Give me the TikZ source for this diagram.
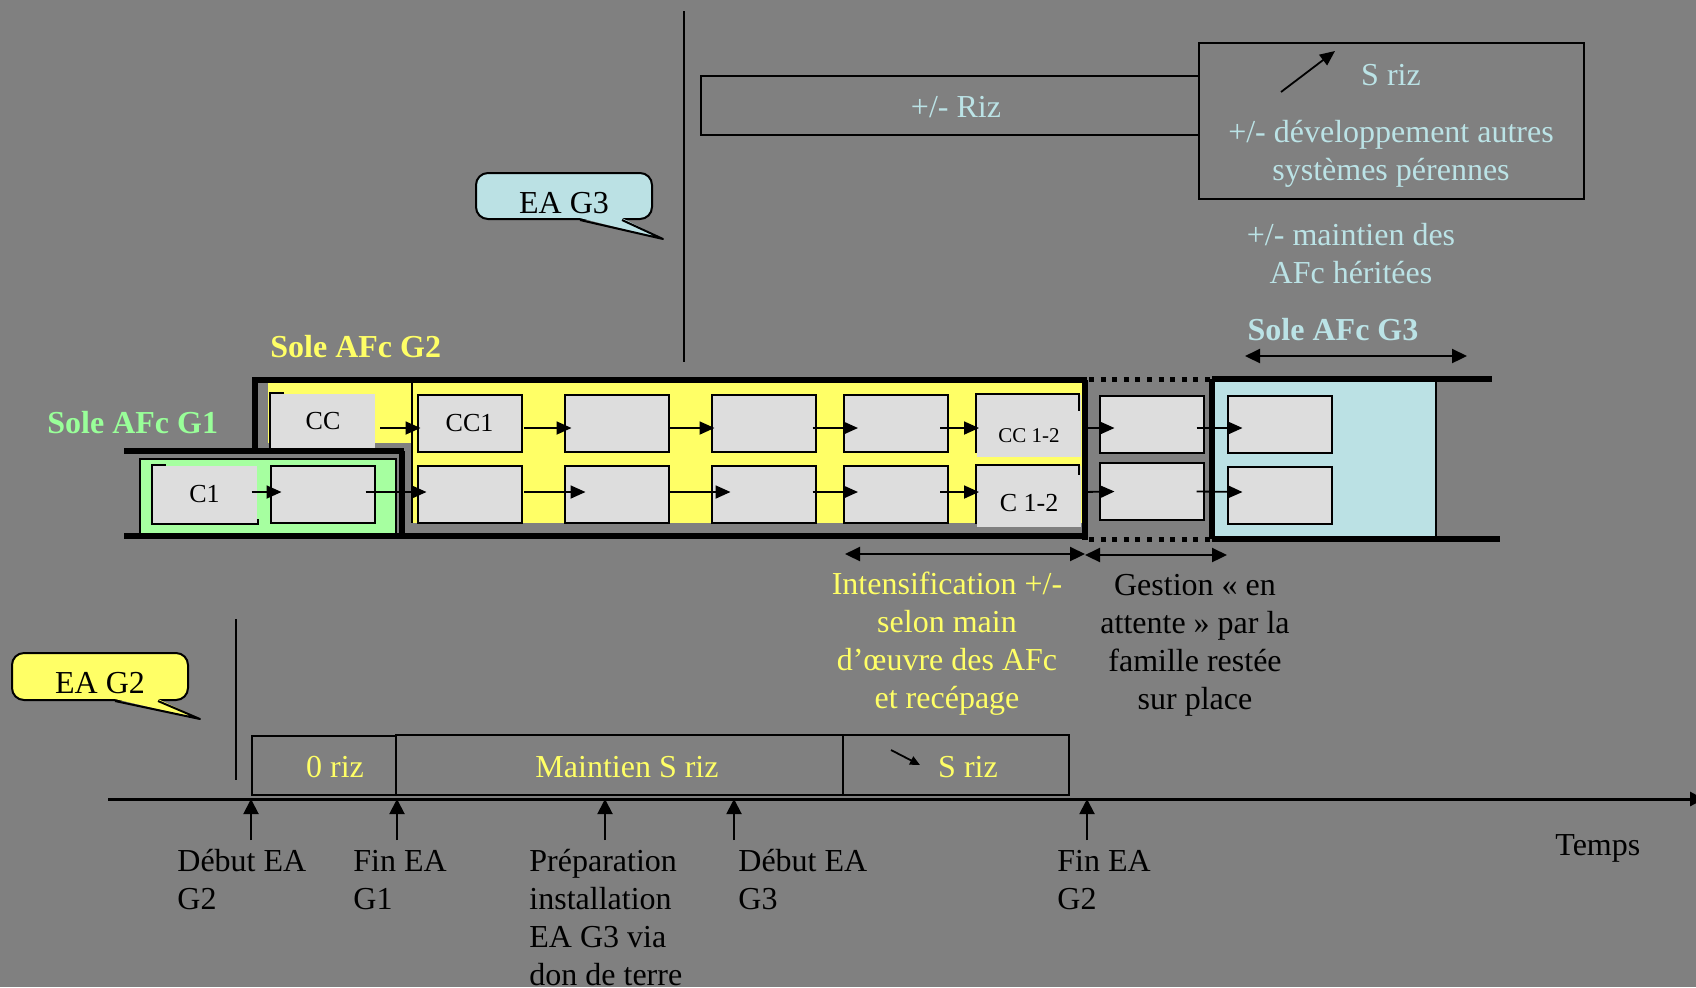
\documentclass[tikz,border=0pt]{standalone}
\usepackage{fontspec}
\setmainfont{Liberation Serif}
\usetikzlibrary{arrows.meta}
\definecolor{bggray}{HTML}{808080}
\definecolor{cellgray}{HTML}{DDDDDD}
\definecolor{solegreen}{HTML}{A6FFA0}
\definecolor{soleyellow}{HTML}{FFFF66}
\definecolor{soleblue}{HTML}{BBE1E4}
\definecolor{greentext}{HTML}{99FF99}
\definecolor{bluetext}{HTML}{BBE3E6}

\begin{document}
\begin{tikzpicture}[x=0.5pt,y=-0.5pt]
	\tikzset{cell/.style={draw, line width=1pt, fill=cellgray, minimum width=52pt, minimum height=28.5pt, inner sep=0pt, font=\fontsize{13}{15}\selectfont}}
	\tikzset{tag_cell/.style={cell, draw=none}}
	\tikzset{flow/.style={line width=0.9pt, -{Triangle[length=7.5pt,width=6.5pt]}}}
	\tikzset{span/.style={line width=1.1pt, {Triangle[length=7.5pt,width=7pt]}-{Triangle[length=7.5pt,width=7pt]}}}
	\tikzset{event/.style={line width=1pt, -{Triangle[length=7.5pt,width=7.5pt]}}}
	\tikzset{sole_edge/.style={line width=3pt}}
	\tikzset{wait_edge/.style={line width=2.5pt, dash pattern=on 2.5pt off 3.3pt}}
	\tikzset{txt/.style={inner sep=0pt, font=\fontsize{16}{19}\selectfont}}
	\tikzset{sole_txt/.style={inner sep=0pt, font=\fontsize{16}{19}\selectfont\bfseries}}
	\tikzset{bubble/.style={draw, line width=1pt, rounded corners=6pt, minimum width=88pt, minimum height=23pt, inner sep=0pt, text height=17pt, text depth=0pt, font=\fontsize{16}{19}\selectfont}}
	\tikzset{tail/.style={line width=1pt, line join=round}}
	\tikzset{period/.style={draw, line width=1pt, inner sep=0pt}}

	% fond
	\fill[bggray] (0,0) rectangle (1696,987);
	\useasboundingbox (0,0) rectangle (1696,987);

	% EA G3 en haut
	\draw[line width=1pt] (684,11) -- (684,362);
	\node[period, minimum width=249pt, minimum height=29.5pt] (riz) at (950,105.5) {};
	\node[period, minimum width=192.5pt, minimum height=78pt] (perenne) at (1391.5,121) {};
	\node[txt, text=bluetext, anchor=base] (riztxt) at (956,117) {+/- Riz};
	\node[txt, text=bluetext, anchor=base] (sriztxt) at (1391,85) {S riz};
	\draw[flow] (1281,92) -- (1335,51);
	\node[txt, text=bluetext, align=center, anchor=base] (perennetxt) at (1391,180) {+/- développement autres\\systèmes pérennes};
	\node[txt, text=bluetext, align=center, anchor=base] (heritetxt) at (1351,283) {+/- maintien des\\AFc héritées};
	\node[bubble, fill=soleblue] (eag3) at (564,196) {EA G3};
	\coordinate (eag3tip) at (663,239);
	\fill[soleblue] ([xshift=8pt,yshift=1pt]eag3.south) -- (eag3tip) -- ([xshift=29pt,yshift=1pt]eag3.south) -- cycle;
	\draw[tail] ([xshift=8pt]eag3.south) -- (eag3tip) -- ([xshift=29pt]eag3.south);

	% soles
	\node[sole_txt, text=greentext, anchor=base west] (soleg1) at (47,433) {Sole AFc G1};
	\node[sole_txt, text=soleyellow, anchor=base west] (soleg2) at (270,357) {Sole AFc G2};
	\node[sole_txt, text=bluetext, anchor=base] (soleg3) at (1333,340) {Sole AFc G3};
	\coordinate (g3left) at (1245,356);
	\coordinate (g3right) at (1467,356);
	\draw[span] (g3left) -- (g3right);

	\draw[line width=1pt, fill=solegreen] (140,459) rectangle (396,534);
	\fill[soleyellow] (268,383) rectangle (412,443);
	\fill[soleyellow] (412,383) rectangle (1083,523);
	\draw[line width=1pt] (412,383) -- (412,523);
	\fill[soleblue] (1213,382) rectangle (1436,537);
	\draw[line width=1pt] (1436,382) -- (1436,537);

	\draw[sole_edge] (255,451) -- (255,380) -- (1087,380);
	\draw[sole_edge] (1085,380) -- (1085,540);
	\draw[sole_edge] (124,451) -- (404,451);
	\draw[sole_edge] (402,451) -- (402,536);
	\draw[sole_edge] (124,536) -- (1087,536);
	\draw[wait_edge] (1089,379) -- (1212,379);
	\draw[wait_edge] (1089,539) -- (1212,539);
	\draw[sole_edge] (1212,379) -- (1212,539);
	\draw[sole_edge] (1212,379) -- (1492,379);
	\draw[sole_edge] (1212,539) -- (1500,539);

	% cultures G1
	\node[tag_cell] (c1) at (204.5,494) {C1};
	\draw[line width=1pt] ([xshift=7pt]c1.north west) -- (c1.north west) -- (c1.south west) -- (c1.south east) -- ([yshift=2.5pt]c1.south east);
	\node[cell] (g1b) at (322.5,494) {};

	% cultures G2
	\node[tag_cell, minimum height=27pt] (cc) at (323,421) {CC};
	\draw[line width=1pt] ([xshift=7pt]cc.north west) -- (cc.north west) -- (cc.south west);
	\node[cell] (cc1) at (469.5,423) {CC1};
	\node[cell] (u3) at (616.5,423) {};
	\node[cell] (u4) at (763.5,423) {};
	\node[cell] (u5) at (896,423) {};
	\node[tag_cell, minimum height=31pt, text height=16pt, text depth=0pt, font=\fontsize{10.5}{12}\selectfont] (cc12) at (1029,426) {CC 1-2};
	\draw[line width=1pt] ([yshift=2.5pt]cc12.south west) -- (cc12.north west) -- ([xshift=-1.5pt]cc12.north east) -- ([xshift=-1.5pt,yshift=-8.5pt]cc12.north east);
	\node[cell] (l2) at (469.5,494) {};
	\node[cell] (l3) at (616.5,494) {};
	\node[cell] (l4) at (763.5,494) {};
	\node[cell] (l5) at (896,494) {};
	\node[tag_cell, minimum height=30.5pt, text height=14.6pt, text depth=0pt] (c12) at (1029,496.5) {C 1-2};
	\draw[line width=1pt] ([yshift=2pt]c12.south west) -- (c12.north west) -- ([xshift=-1.5pt]c12.north east) -- ([xshift=-1.5pt,yshift=-5pt]c12.north east);

	% attente et G3
	\node[cell] (u7) at (1151.5,424) {};
	\node[cell] (l7) at (1151.5,491.5) {};
	\node[cell] (u8) at (1279.5,424) {};
	\node[cell] (l8) at (1279.5,495) {};

	% enchainements
	\draw[flow] ([xshift=2pt,yshift=-3.5pt]cc.east) -- ([xshift=2pt,yshift=-2.5pt]cc1.west);
	\draw[flow] ([xshift=0.75pt,yshift=-2.5pt]cc1.east) -- ([xshift=4pt,yshift=-2.5pt]u3.west);
	\draw[flow] ([yshift=-2.5pt]u3.east) -- ([xshift=2pt,yshift=-2.5pt]u4.west);
	\draw[flow] ([xshift=-2pt,yshift=-2.5pt]u4.east) -- ([xshift=7.5pt,yshift=-2.5pt]u5.west);
	\draw[flow] ([xshift=-4.5pt,yshift=-2.5pt]u5.east) -- ([xshift=1.5pt,yshift=-1pt]cc12.west);
	\draw[flow] ([yshift=-1pt]cc12.east) -- ([xshift=8pt,yshift=-2pt]u7.west);
	\draw[flow] ([xshift=-4pt,yshift=-2pt]u7.east) -- ([xshift=8pt,yshift=-2pt]u8.west);
	\draw[flow] ([xshift=-3pt,yshift=1pt]c1.east) -- ([xshift=6pt,yshift=1pt]g1b.west);
	\draw[flow] ([xshift=-5pt,yshift=1pt]g1b.east) -- ([xshift=5pt,yshift=1pt]l2.west);
	\draw[flow] ([xshift=0.75pt,yshift=1pt]l2.east) -- ([xshift=11pt,yshift=1pt]l3.west);
	\draw[flow] ([yshift=1pt]l3.east) -- ([xshift=10pt,yshift=1pt]l4.west);
	\draw[flow] ([xshift=-2pt,yshift=1pt]l4.east) -- ([xshift=7.5pt,yshift=1pt]l5.west);
	\draw[flow] ([xshift=-4.5pt,yshift=1pt]l5.east) -- ([xshift=1.5pt,yshift=2.25pt]c12.west);
	\draw[flow] ([yshift=2.25pt]c12.east) -- ([xshift=8pt]l7.west);
	\draw[flow] ([xshift=-4pt]l7.east) -- ([xshift=8pt,yshift=1.5pt]l8.west);

	% phases
	\coordinate (intl) at (845,554);
	\coordinate (intr) at (1085,554);
	\draw[span] (intl) -- (intr);
	\coordinate (gestl) at (1085,555);
	\coordinate (gestr) at (1227,555);
	\draw[span] (gestl) -- (gestr);
	\node[txt, text=soleyellow, align=center, anchor=base] (intens) at (947,708) {Intensification +/-\\selon main\\d’œuvre des AFc\\et recépage};
	\node[txt, align=center, anchor=base] (gestion) at (1195,709) {Gestion « en\\attente » par la\\famille restée\\sur place};

	% EA G2 en bas
	\node[bubble, fill=soleyellow, minimum height=23.5pt] (eag2) at (100,676.5) {EA G2};
	\coordinate (eag2tip) at (200,719);
	\fill[soleyellow] ([xshift=7.5pt,yshift=1pt]eag2.south) -- (eag2tip) -- ([xshift=29pt,yshift=1pt]eag2.south) -- cycle;
	\draw[tail] ([xshift=7.5pt]eag2.south) -- (eag2tip) -- ([xshift=29pt]eag2.south);
	\draw[line width=1pt] (236,619) -- (236,780);

	\node[period, minimum width=72pt, minimum height=29.5pt] (p0) at (324,765.5) {};
	\node[period, minimum width=223.5pt, minimum height=30pt] (p1) at (619.5,765) {};
	\node[period, minimum width=113pt, minimum height=30pt] (p2) at (956,765) {};
	\node[txt, text=soleyellow, anchor=base] (p0txt) at (335,777) {0 riz};
	\node[txt, text=soleyellow, anchor=base] (p1txt) at (627,777) {Maintien S riz};
	\node[txt, text=soleyellow, anchor=base] (p2txt) at (968,777) {S riz};
	\draw[line width=0.9pt, -{Triangle[length=5pt,width=4.5pt]}] (891,750) -- (920,765);

	% axe du temps
	\coordinate (t0) at (108,799);
	\coordinate (t1) at (1704,799);
	\draw[line width=1.5pt, -{Triangle[length=7pt,width=7pt]}] (t0) -- (t1);
	\coordinate (ev1) at (251,840);
	\coordinate (ev2) at (397,840);
	\coordinate (ev3) at (605,840);
	\coordinate (ev4) at (734,840);
	\coordinate (ev5) at (1087,840);
	\draw[event] (ev1) -- (ev1 |- t0);
	\draw[event] (ev2) -- (ev2 |- t0);
	\draw[event] (ev3) -- (ev3 |- t0);
	\draw[event] (ev4) -- (ev4 |- t0);
	\draw[event] (ev5) -- (ev5 |- t0);
	\node[txt, align=left, anchor=base west] (lev1) at (177,909) {Début EA\\G2};
	\node[txt, align=left, anchor=base west] (lev2) at (353,909) {Fin EA\\G1};
	\node[txt, align=left, anchor=base west] (lev3) at (529,985) {Préparation\\installation\\EA G3 via\\don de terre};
	\node[txt, align=left, anchor=base west] (lev4) at (738,909) {Début EA\\G3};
	\node[txt, align=left, anchor=base west] (lev5) at (1057,909) {Fin EA\\G2};
	\node[txt, anchor=base west] (temps) at (1555,855) {Temps};
\end{tikzpicture}
\end{document}
